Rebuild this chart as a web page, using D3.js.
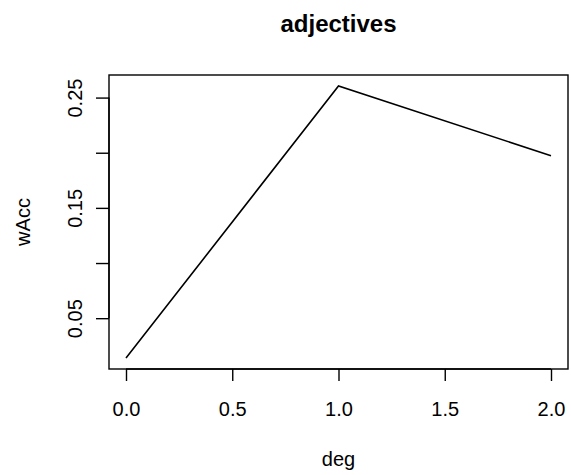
<!DOCTYPE html>
<html><head><meta charset="utf-8">
<script src="https://cdn.jsdelivr.net/npm/d3@7"></script>
<style>body{margin:0;background:#fff}svg{display:block}</style>
</head><body>
<script>
const degValues = [0, 1, 2];
const wAccValues = [0.0138, 0.2606, 0.1973];
const xTicks = [0.0, 0.5, 1.0, 1.5, 2.0];
const yTicks = [0.05, 0.15, 0.25];
const yMinorTicks = [0.05, 0.10, 0.15, 0.20, 0.25];
const titleText = "adjectives";
const xLabel = "deg";
const yLabel = "wAcc";

const W = 571, H = 475;
const box = {left: 109, right: 568, top: 75, bottom: 369};
const font = "Liberation Sans, Arial, Helvetica, sans-serif";

const svg = d3.select("body").append("svg").attr("width", W).attr("height", H);

const xExt = d3.extent(degValues), yExt = d3.extent(wAccValues);
const xPad = (xExt[1]-xExt[0])*0.04, yPad = (yExt[1]-yExt[0])*0.04;
const x = d3.scaleLinear().domain([xExt[0]-xPad, xExt[1]+xPad]).range([box.left, box.right]);
const y = d3.scaleLinear().domain([yExt[0]-yPad, yExt[1]+yPad]).range([box.bottom, box.top]);

svg.append("rect").attr("x", box.left).attr("y", box.top)
  .attr("width", box.right-box.left).attr("height", box.bottom-box.top)
  .attr("fill","none").attr("stroke","#000").attr("stroke-width",1.4);

const line = d3.line().x((d,i)=>x(degValues[i])).y(d=>y(d));
svg.append("path").datum(wAccValues).attr("d", line)
  .attr("fill","none").attr("stroke","#000").attr("stroke-width",1.6);

// x axis
const xAxis = d3.axisBottom(x).tickValues(xTicks).tickFormat(d3.format(".1f")).tickSizeOuter(0).tickSize(12);
const gx = svg.append("g").attr("transform",`translate(0,${box.bottom})`).call(xAxis);
gx.select(".domain").attr("d", `M${x(xTicks[0])},0H${x(xTicks[xTicks.length-1])}`).attr("stroke-width",1.4);
gx.selectAll(".tick line").attr("stroke-width",1.4);
gx.selectAll("text").attr("font-family",font).attr("font-size",20).attr("fill","#000").attr("dy",0).attr("y",47);

// y axis
const yAxis = d3.axisLeft(y).tickValues(yMinorTicks).tickSizeOuter(0).tickSize(13).tickFormat(d => yTicks.some(t=>Math.abs(t-d)<1e-9) ? d3.format(".2f")(d) : "");
const gy = svg.append("g").attr("transform",`translate(${box.left},0)`).call(yAxis);
gy.select(".domain").attr("d", `M0,${y(yMinorTicks[0])}V${y(yMinorTicks[yMinorTicks.length-1])}`).attr("stroke-width",1.4);
gy.selectAll(".tick line").attr("stroke-width",1.4);
gy.selectAll("text").attr("font-family",font).attr("font-size",20).attr("fill","#000")
  .attr("x",0).attr("dy",0).attr("text-anchor","middle")
  .attr("transform","translate(-27,0) rotate(-90)");

svg.append("text").attr("x",(box.left+box.right)/2).attr("y",32).attr("text-anchor","middle")
  .attr("font-family",font).attr("font-size",24).attr("font-weight","bold").text(titleText);
svg.append("text").attr("x",(box.left+box.right)/2).attr("y",466).attr("text-anchor","middle")
  .attr("font-family",font).attr("font-size",20).text(xLabel);
svg.append("text").attr("transform",`translate(30,${(box.top+box.bottom)/2}) rotate(-90)`).attr("text-anchor","middle")
  .attr("font-family",font).attr("font-size",20).text(yLabel);
</script>
</body></html>
